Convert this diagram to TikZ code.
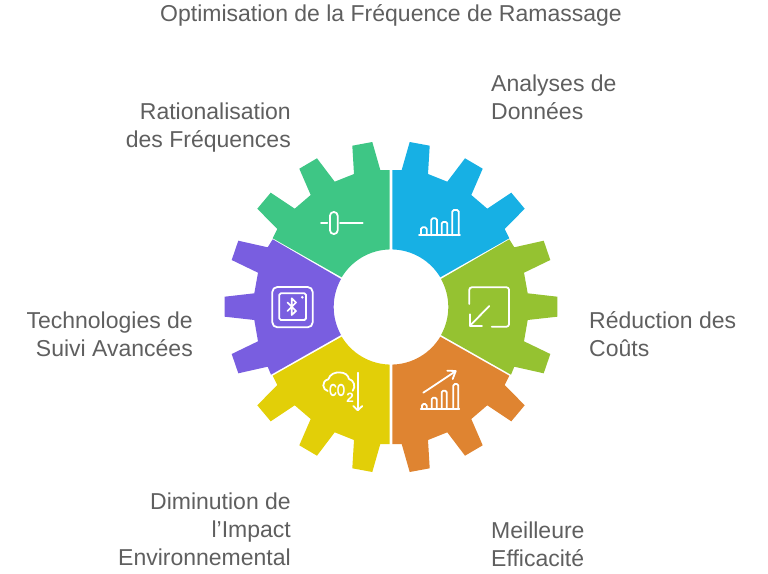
\documentclass[tikz,border=0pt]{standalone}
\usepackage{graphicx}
\usepackage{fontspec}
\setmainfont{Liberation Sans}
\definecolor{txt}{HTML}{5F5F5F}
\definecolor{cgreen}{HTML}{3EC685}
\definecolor{cblue}{HTML}{17B0E4}
\definecolor{clime}{HTML}{95C231}
\definecolor{corange}{HTML}{DF8431}
\definecolor{cyellow}{HTML}{E2CF08}
\definecolor{cpurple}{HTML}{795EE0}
\tikzset{
 lbl/.style={text=txt,font=\fontsize{23pt}{28pt}\selectfont,inner sep=0pt},
 ico/.style={draw=white,line width=1.8pt,line join=round,line cap=round},
 bar/.style={ico,rounded corners=1.5pt},
}
\newcommand{\topsector}{(1.3,137) -- (10.7,137) -- (18.7,165) -- (38.7,161.3) -- (37,133) -- (56.3,125.3) -- (74,148.7) -- (91.7,138.3) -- (80.3,112) -- (96.3,98.3) -- (120.3,114.3) -- (133.7,98.3) -- (113.7,78) -- (118.3,68.7) -- (49.3,29.7) arc[start angle=31,end angle=88.7,radius=57.5] -- cycle}
\newcommand{\rightsector}{(50,28) -- (118.3,67.7) -- (123.3,59.7) -- (152.7,66.3) -- (159.3,47) -- (133,34.3) -- (136.7,13.7) -- (166.3,10.3) -- (166.3,-9.7) -- (136.7,-13) -- (133,-34.3) -- (159.3,-47) -- (152.7,-66.3) -- (123.3,-59.7) -- (120,-67.7) -- (50,-28) arc[start angle=-29.25,end angle=29.25,radius=57.3] -- cycle}
\begin{document}
\begin{tikzpicture}[x=1pt,y=1pt,yscale=-1]
\useasboundingbox (0,0) rectangle (768,573);
\begin{scope}[shift={(391,307)},yscale=-1]
\fill[cblue] \topsector;
\begin{scope}[xscale=-1]\fill[cgreen] \topsector;\end{scope}
\begin{scope}[yscale=-1]\fill[corange] \topsector;\end{scope}
\begin{scope}[xscale=-1,yscale=-1]\fill[cyellow] \topsector;\end{scope}
\fill[clime] \rightsector;
\begin{scope}[xscale=-1]\fill[cpurple] \rightsector;\end{scope}
\end{scope}
% green icon
\draw[ico] (321,223) -- (327.3,223) (340,223) -- (362.7,223);
\draw[ico,rounded corners=3.7pt] (330,212) rectangle (337.7,234);
% blue icon
\draw[ico] (419,235.3) -- (460,235.3);
\draw[bar] (421,235.3) -- (421,227.3) -- (426.7,227.3) -- (426.7,235.3);
\draw[bar] (431.3,235.3) -- (431.3,218.3) -- (437,218.3) -- (437,235.3);
\draw[bar] (441.7,235.3) -- (441.7,222) -- (447.3,222) -- (447.3,235.3);
\draw[bar] (452.3,235.3) -- (452.3,210) -- (458.7,210) -- (458.7,235.3);
% orange icon
\draw[ico] (420.7,409) -- (459.3,409);
\draw[bar] (422,409) -- (422,404) -- (426.7,404) -- (426.7,409);
\draw[bar] (431.7,409) -- (431.7,397.7) -- (436.7,397.7) -- (436.7,409);
\draw[bar] (441.7,409) -- (441.7,390.7) -- (446.7,390.7) -- (446.7,409);
\draw[bar] (453.3,409) -- (453.3,384) -- (458.3,384) -- (458.3,409);
\draw[ico] (423.3,392.7) -- (455.5,371.3);
\draw[ico] (447.3,370.7) -- (455.7,371) -- (452.7,379);
% lime icon
\draw[ico,rounded corners=2.5pt] (469.3,304) -- (469.3,287.3) -- (509,287.3) -- (509,326.7) -- (491.7,326.7);
\draw[ico] (489.3,306) -- (470,325.7);
\draw[ico] (470,314.3) -- (470,325.7) -- (482,325.7);
% purple icon
\draw[ico,rounded corners=5pt] (272.3,287) rectangle (312.7,327.3);
\draw[ico,rounded corners=1.5pt] (279.3,293.3) rectangle (306,320);
\fill[white] (302.3,297.3) circle[radius=1.4pt];
\draw[ico,line width=1.7pt] (287.5,302.5) -- (296,311) -- (291.7,315) -- (291.7,298.3) -- (296,302.5) -- (287.5,311);
% yellow icon
\draw[ico] (357.7,372.7) -- (357.7,410);
\draw[ico] (353.3,406) -- (357.7,410.3) -- (362.3,406);
\draw[ico] (327.7,391) .. controls (322.5,390) and (321,381) .. (328.3,379.3) .. controls (330,374) and (335,372) .. (340,372.5) .. controls (345,372.5) and (348,375) .. (349,379) .. controls (354,380) and (356,387) .. (352.7,390.7);
\node[inner sep=0pt,text=white,anchor=base,font=\fontsize{17.5pt}{17.5pt}\bfseries] (co) at (337.2,396.7) {\scalebox{.62}[1]{CO}};
\node[inner sep=0pt,text=white,anchor=base,font=\fontsize{13.5pt}{13.5pt}\bfseries] (two) at (350,402.7) {2};
% labels
\node[lbl,anchor=base] (title) at (391,21.7) {Optimisation de la Fréquence de Ramassage};
\node[lbl,anchor=base west] (a1) at (491,91.7) {Analyses de};
\node[lbl,anchor=base west] (a2) at (491,119.7) {Données};
\node[lbl,anchor=base east] (b1) at (291,119.7) {Rationalisation};
\node[lbl,anchor=base east] (b2) at (291,147.7) {des Fréquences};
\node[lbl,anchor=base west] (c1) at (589,328.7) {Réduction des};
\node[lbl,anchor=base west] (c2) at (589,356.7) {Coûts};
\node[lbl,anchor=base east] (d1) at (193,328.7) {Technologies de};
\node[lbl,anchor=base east] (d2) at (193,356.7) {Suivi Avancées};
\node[lbl,anchor=base east] (e1) at (291,509.7) {Diminution de};
\node[lbl,anchor=base east] (e2) at (291,537.7) {l\char"0027 Impact};
\node[lbl,anchor=base east] (e3) at (291,565.7) {Environnemental};
\node[lbl,anchor=base west] (f1) at (491,538.7) {Meilleure};
\node[lbl,anchor=base west] (f2) at (491,566.7) {Efficacité};
\end{tikzpicture}
\end{document}
